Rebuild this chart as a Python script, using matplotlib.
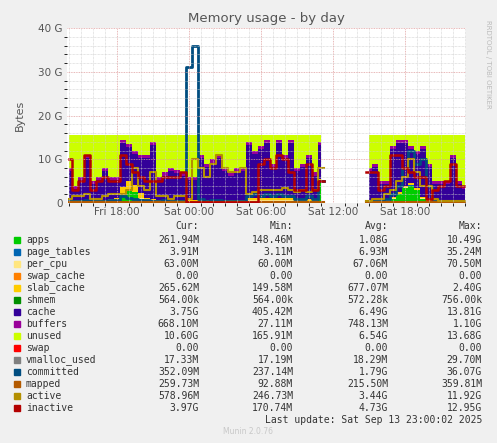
import numpy as np
import matplotlib
matplotlib.use("Agg")
import matplotlib.pyplot as plt

nan = np.nan
# half-hourly samples from Fri 14:00 (hours offset = 0.5 * index), gap Sat 11:30-14:30
top_cache = [8, 4, 6, 11, 5, 6, 8, 6, 6, 14.5, 13.5, 12, 11, 11, 14, 6, 7, 8, 7.5, 7,
             6, 6, 11, 9, 10, 11, 8, 7, 8, 8, 14, 12, 13, 14.5, 9, 14.5, 11, 14.5, 8, 9,
             11, 7, 14, nan, nan, nan, nan, nan, nan, nan, 8, 9, 5, 5, 13, 14.5, 14.5, 13, 12, 13,
             9, 5, 5, 5, 11, 5, 4]
inactive = [10, 3, 5, 11, 3, 5, 6, 5, 5, 11, 9, 7, 6, 5, 5, 5, 6, 6, 6, 7,
            0.3, 0.2, 0.2, 0.2, 0.2, 0.2, 0.2, 0.2, 0.2, 0.2, 0.2, 0.2, 9, 10, 8, 11, 10, 7, 3, 3,
            9, 3, 5, nan, nan, nan, nan, nan, nan, nan, 7, 7, 3, 4, 11, 11, 8, 7, 6, 6,
            1, 3, 4, 5, 9, 4, 4]
active = [1, 1.5, 1.5, 2, 1, 1, 1.5, 2, 2, 2, 3, 8, 4, 3, 7, 1.5, 1.5, 1, 1.5, 1.5,
          1, 10, 8, 6, 9, 11, 8, 7, 7, 8, 2, 2.5, 3, 3, 3, 3, 3.5, 3, 2.5, 3,
          2.5, 3, 8, nan, nan, nan, nan, nan, nan, nan, 0.5, 1, 1, 2, 3, 5, 6, 10, 7, 4,
          4, 1, 0.5, 0.5, 0.5, 0.5, 0.5]
committed = [0.5, 0.4, 0.5, 0.6, 0.4, 0.5, 0.5, 0.6, 0.8, 1.5, 1.2, 1.0, 0.8, 0.6, 0.5, 0.5, 0.6, 0.5, 0.5, 0.5,
             31, 36, 1.0, 0.5, 0.6, 0.6, 0.5, 0.5, 0.5, 0.5, 1.5, 2, 1.5, 2, 1.5, 2, 1.5, 1.5, 1, 1,
             1.5, 1, 5, nan, nan, nan, nan, nan, nan, nan, 0.5, 0.5, 0.5, 1, 2, 4, 8, 12, 9, 10,
             4, 1, 0.5, 0.5, 0.5, 0.5, 0.4]
apps = [0.3, 0.3, 0.3, 0.3, 0.3, 0.3, 0.3, 0.4, 0.5, 2, 3, 2.5, 1, 0.5, 0.4, 0.3, 0.3, 0.3, 0.3, 0.3,
        0.3, 0.3, 0.3, 0.3, 0.3, 0.3, 0.3, 0.3, 0.3, 0.3, 0.5, 0.5, 0.5, 0.5, 0.5, 0.5, 0.5, 0.5, 0.4, 0.4,
        0.4, 0.4, 5, nan, nan, nan, nan, nan, nan, nan, 0.3, 0.3, 0.3, 0.5, 1, 2, 3.5, 4, 3, 1,
        0.3, 0.3, 0.3, 0.3, 0.3, 0.3, 0.3]
slab_cache = [0.3, 0.3, 0.3, 0.3, 0.3, 0.3, 0.3, 0.4, 0.6, 1.5, 2, 1.5, 1.2, 0.6, 0.4, 0.3, 0.3, 0.3, 0.3, 0.3,
              0.3, 0.2, 0.3, 0.3, 0.3, 0.3, 0.3, 0.3, 0.3, 0.3, 0.5, 0.5, 0.6, 0.5, 0.6, 0.5, 0.6, 0.5, 0.5, 0.5,
              0.4, 0.4, 0.5, nan, nan, nan, nan, nan, nan, nan, 0.3, 0.3, 0.3, 0.3, 0.4, 0.4, 0.4, 0.4, 0.4, 0.4,
              0.3, 0.3, 0.3, 0.3, 0.3, 0.3, 0.3]
page_tables = 0.007
per_cpu = 0.067
buffers = 0.75
shmem = 0.0006
mapped = 0.22
vmalloc_used = 0.018
total = 15.5

legend_names = ["apps", "page_tables", "per_cpu", "swap_cache", "slab_cache", "shmem", "cache",
                "buffers", "unused", "swap", "vmalloc_used", "committed", "mapped", "active", "inactive"]
legend_colors = ["#00cc00", "#0066b3", "#ffe680", "#ff8000", "#ffcc00", "#008f00", "#330099",
                 "#990099", "#ccff00", "#ff0000", "#808080", "#004d80", "#b35a00", "#b38f00", "#b30000"]
cur = ["261.94M", "3.91M", "63.00M", "0.00", "265.62M", "564.00k", "3.75G", "668.10M", "10.60G",
       "0.00", "17.33M", "352.09M", "259.73M", "578.96M", "3.97G"]
mins = ["148.46M", "3.11M", "60.00M", "0.00", "149.58M", "564.00k", "405.42M", "27.11M", "165.91M",
        "0.00", "17.19M", "237.14M", "92.88M", "246.73M", "170.74M"]
avgs = ["1.08G", "6.93M", "67.06M", "0.00", "677.07M", "572.28k", "6.49G", "748.13M", "6.54G",
        "0.00", "18.29M", "1.79G", "215.50M", "3.44G", "4.73G"]
maxs = ["10.49G", "35.24M", "70.50M", "0.00", "2.40G", "756.00k", "13.81G", "1.10G", "13.68G",
        "0.00", "29.70M", "36.07G", "359.81M", "11.92G", "12.95G"]

col = dict(zip(legend_names, legend_colors))
n = len(top_cache)
x = 0.5 * np.arange(n)
top = np.array(top_cache, float)
a = np.array(apps, float)
s = np.array(slab_cache, float)
valid = ~np.isnan(top)

fig = plt.figure(figsize=(4.97, 4.43), dpi=100, facecolor="#f0f0f0")
ax = fig.add_axes([67 / 497, 1 - 203 / 443, 399 / 497, 175 / 443])
ax.set_facecolor("white")

# stacked areas
layers = [
    ("apps", np.zeros(n), a),
    ("page_tables", a, a + page_tables),
    ("per_cpu", a + page_tables, a + page_tables + per_cpu),
    ("slab_cache", a + page_tables + per_cpu, a + page_tables + per_cpu + s),
]
base = a + page_tables + per_cpu + s
layers.append(("cache", base, np.maximum(top - buffers, base)))
layers.append(("buffers", np.maximum(top - buffers, base), np.maximum(top, base + buffers)))
layers.append(("unused", np.maximum(top, base + buffers), np.where(valid, total, nan)))
for name, lo, hi in layers:
    ax.fill_between(x, lo, hi, where=valid, step="mid", color=col[name], lw=0)

def line(vals, name, lw=1.5):
    v = np.where(valid, vals, nan) if np.isscalar(vals) else np.array(vals, float)
    ax.step(x, v, where="mid", color=col[name], lw=lw)

line(vmalloc_used, "vmalloc_used", 1)
line(committed, "committed", 2)
line(mapped, "mapped", 1.5)
line(active, "active", 1.5)
line(inactive, "inactive", 1.8)

ax.set_xlim(-10 / 60, 33.08)
ax.set_ylim(0, 40)
ax.set_xticks([4, 10, 16, 22, 28])
ax.set_xticklabels(["Fri 18:00", "Sat 00:00", "Sat 06:00", "Sat 12:00", "Sat 18:00"])
ax.set_yticks([0, 10, 20, 30, 40])
ax.set_yticklabels(["0", "10 G", "20 G", "30 G", "40 G"])
ax.set_xticks(np.arange(0, 33.5, 1), minor=True)
ax.set_yticks(np.arange(0, 41, 2), minor=True)
ax.grid(which="minor", color="#cccccc", ls=(0, (1, 1)), lw=0.5)
ax.grid(which="major", color="#e0a0a0", ls=(0, (1, 1)), lw=0.6)
ax.set_axisbelow(False)
ax.tick_params(labelsize=7.5, colors="#555555", length=0, pad=3)
for sp in ax.spines.values():
    sp.set_visible(False)
ax.set_ylabel("Bytes", fontsize=8, color="#555555", labelpad=10)
ax.set_title("Memory usage - by day", fontsize=9.5, color="#555555", pad=4)
fig.text(488 / 497, 1 - 20 / 443, "RRDTOOL / TOBI OETIKER", rotation=270, fontsize=5,
         color="#bbbbbb", va="top", ha="center")

mono = "DejaVu Sans Mono"
fs = 7
def fy(py):
    return 1 - py / 443
for xr, h in zip([199, 293, 388, 482], ["Cur:", "Min:", "Avg:", "Max:"]):
    fig.text(xr / 497, fy(226), h, ha="right", va="center", family=mono, fontsize=fs, color="#333333")
for k, name in enumerate(legend_names):
    yy = 240 + 12 * k
    fig.patches.append(plt.Rectangle((14 / 497, fy(yy + 3)), 6 / 497, 6 / 443,
                                     transform=fig.transFigure, color=legend_colors[k]))
    fig.text(26 / 497, fy(yy), name, va="center", family=mono, fontsize=fs, color="#333333")
    for xr, v in zip([199, 293, 388, 482], [cur[k], mins[k], avgs[k], maxs[k]]):
        fig.text(xr / 497, fy(yy), v, ha="right", va="center", family=mono, fontsize=fs, color="#333333")
fig.text(482 / 497, fy(420), "Last update: Sat Sep 13 23:00:02 2025", ha="right", va="center",
         family=mono, fontsize=fs, color="#333333")
fig.text(248 / 497, fy(432), "Munin 2.0.76", ha="center", va="center", fontsize=5.5, color="#c8c8c8")

fig.savefig("out.png", dpi=100, facecolor=fig.get_facecolor())
